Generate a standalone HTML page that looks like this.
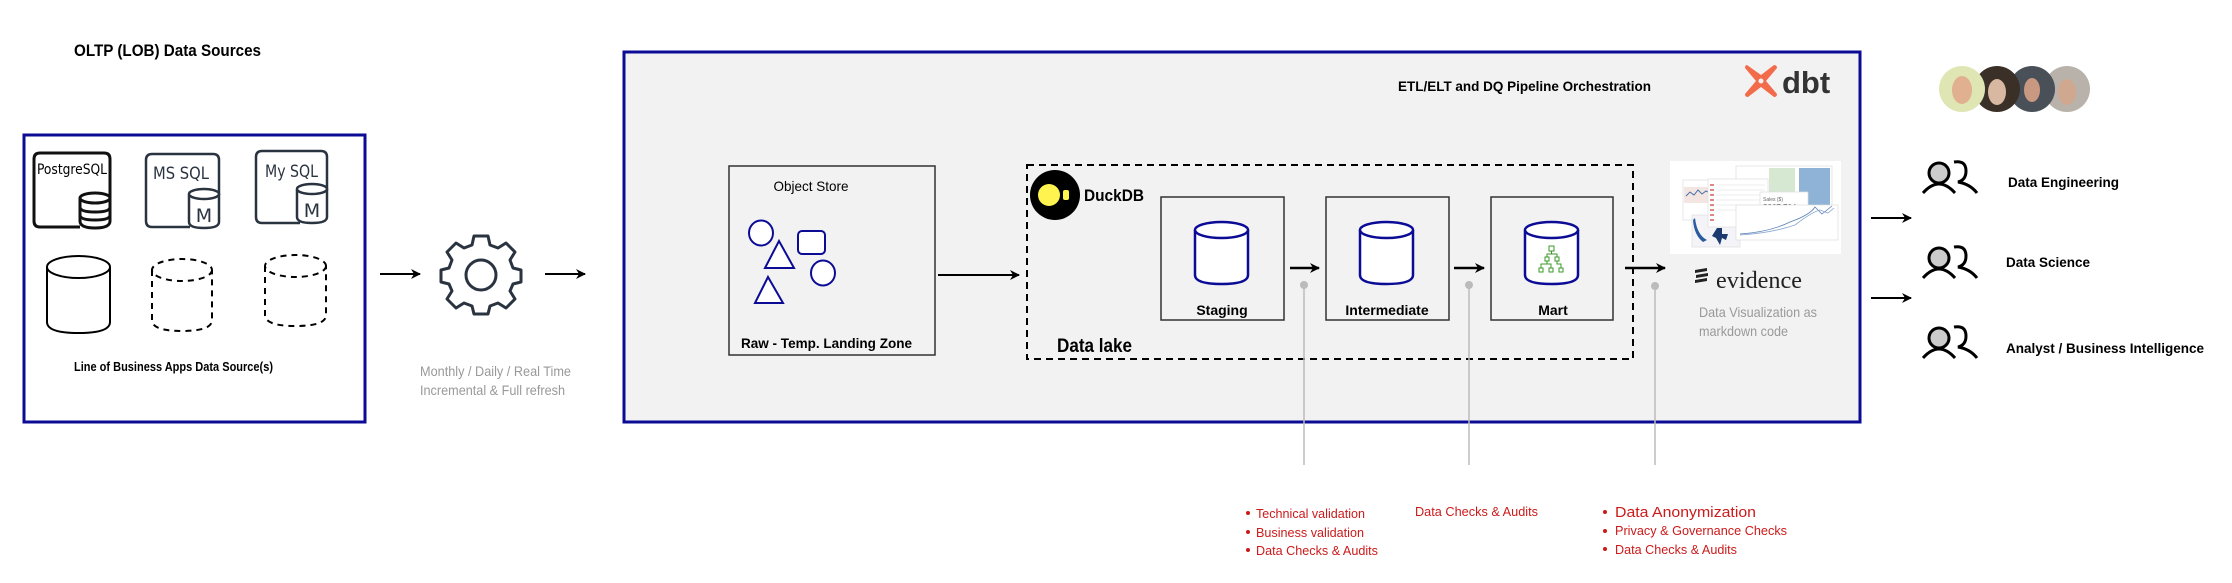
<!DOCTYPE html>
<html><head><meta charset="utf-8"><style>
html,body{margin:0;padding:0;background:#fff;}
svg{display:block;}
</style></head><body>
<svg width="2232" height="583" viewBox="0 0 2232 583" xmlns="http://www.w3.org/2000/svg" font-family="Liberation Sans, Arial, sans-serif">
<defs>
<marker id="ah" markerWidth="10" markerHeight="10" refX="9" refY="5" orient="auto" markerUnits="userSpaceOnUse"><path d="M0,0 L10,5 L0,10 L3,5 Z" fill="#000"/></marker>
</defs>

<text x="74" y="56" font-size="17" font-weight="bold" fill="#000" textLength="187" lengthAdjust="spacingAndGlyphs">OLTP (LOB) Data Sources</text>
<rect x="24" y="135" width="341" height="287" fill="#fff" stroke="#0b0b96" stroke-width="3"/>

<path d="M80,227 L40,227 Q34,227 34,221 L34,159 Q34,153 40,153 L104,153 Q110,153 110,159 L110,200" fill="none" stroke="#111" stroke-width="3"/>
<text x="37" y="174" font-size="14" fill="#000" font-family="DejaVu Sans Condensed, DejaVu Sans, sans-serif" textLength="70" lengthAdjust="spacingAndGlyphs">PostgreSQL</text>
<g stroke="#111" stroke-width="3" fill="#fff">
<path d="M80,198 L80,221 Q80,228 95,228 Q110,228 110,221 L110,198"/>
<ellipse cx="95" cy="198" rx="15" ry="5"/>
<path d="M80,207 Q80,212 95,212 Q110,212 110,207" fill="none"/>
<path d="M80,215 Q80,220 95,220 Q110,220 110,215" fill="none"/>
</g>
<g stroke="#2a3340" stroke-width="2.5" fill="none">
<path d="M190,227 L152,227 Q146,227 146,221 L146,160 Q146,154 152,154 L213,154 Q219,154 219,160 L219,195"/>
<path d="M189,194 L189,222 Q189,228 204,228 Q219,228 219,222 L219,194"/>
<ellipse cx="204" cy="194" rx="15" ry="5" fill="#fff"/>
</g>
<text x="153" y="179" font-size="17" fill="#2a3340" font-family="DejaVu Sans, sans-serif" textLength="56" lengthAdjust="spacingAndGlyphs">MS SQL</text>
<text x="204" y="222" font-size="19" fill="#2a3340" text-anchor="middle" font-family="DejaVu Sans, sans-serif">M</text>
<g stroke="#2a3340" stroke-width="2.5" fill="none">
<path d="M300,223 L262,223 Q256,223 256,217 L256,157 Q256,151 262,151 L321,151 Q327,151 327,157 L327,190"/>
<path d="M297,189 L297,217 Q297,223 312,223 Q327,223 327,217 L327,189"/>
<ellipse cx="312" cy="189" rx="15" ry="5" fill="#fff"/>
</g>
<text x="265" y="177" font-size="17" fill="#2a3340" font-family="DejaVu Sans, sans-serif" textLength="53" lengthAdjust="spacingAndGlyphs">My SQL</text>
<text x="312" y="217" font-size="19" fill="#2a3340" text-anchor="middle" font-family="DejaVu Sans, sans-serif">M</text>

<g fill="#fff" stroke="#000" stroke-width="2">
<path d="M47,267 L47,322 Q47,333 78.5,333 Q110,333 110,322 L110,267"/>
<ellipse cx="78.5" cy="267" rx="31.5" ry="11"/>
</g>
<g fill="none" stroke="#000" stroke-width="2" stroke-dasharray="6,5">
<path d="M152,270 L152,320 Q152,331 182,331 Q212,331 212,320 L212,270"/>
<ellipse cx="182" cy="270" rx="30" ry="11"/>
<path d="M265,266 L265,315 Q265,326 295.5,326 Q326,326 326,315 L326,266"/>
<ellipse cx="295.5" cy="266" rx="30.5" ry="11"/>
</g>
<text x="74" y="371" font-size="13" font-weight="bold" fill="#000" textLength="199" lengthAdjust="spacingAndGlyphs">Line of Business Apps Data Source(s)</text>

<line x1="380" y1="274" x2="420" y2="274" stroke="#000" stroke-width="2" marker-end="url(#ah)"/>
<line x1="545" y1="274" x2="585" y2="274" stroke="#000" stroke-width="2" marker-end="url(#ah)"/>
<g transform="translate(481,275)" fill="none" stroke="#2a3340" stroke-width="3" stroke-linejoin="round">
<path d="M-7,-39 L7,-39 L9,-30 L17,-27 L25,-32 L34,-23 L29,-15 L32,-7 L40,-5 L40,7 L32,9 L29,16 L34,24 L25,33 L17,28 L9,31 L7,39 L-7,39 L-9,31 L-17,28 L-25,33 L-34,24 L-29,16 L-32,9 L-40,7 L-40,-5 L-32,-7 L-29,-15 L-34,-23 L-25,-32 L-17,-27 L-9,-30 Z"/>
<circle r="15"/>
</g>
<text x="420" y="376" font-size="14" fill="#999" textLength="151" lengthAdjust="spacingAndGlyphs">Monthly / Daily / Real Time</text>
<text x="420" y="395" font-size="14" fill="#999" textLength="145" lengthAdjust="spacingAndGlyphs">Incremental &amp; Full refresh</text>

<rect x="624" y="52" width="1236" height="370" fill="#f2f2f2" stroke="#0b0b96" stroke-width="3"/>
<text x="1398" y="91" font-size="14" font-weight="bold" fill="#000" textLength="253" lengthAdjust="spacingAndGlyphs">ETL/ELT and DQ Pipeline Orchestration</text>
<g transform="translate(1761,81)" fill="#f26b4a">
<path d="M-14,-16 Q-16,-16 -16,-13 L-5,0 L-16,13 Q-16,16 -13,16 L0,6 L13,16 Q16,16 16,13 L5,0 L16,-13 Q16,-16 13,-16 L0,-6 Z"/>
<circle r="2.5" fill="#f2f2f2"/>
</g>
<text x="1782" y="93" font-size="31" font-weight="bold" fill="#333">dbt</text>

<rect x="729" y="166" width="206" height="189" fill="#f2f2f2" stroke="#333" stroke-width="1.5"/>
<text x="811" y="191" font-size="14" text-anchor="middle" fill="#000" textLength="75" lengthAdjust="spacingAndGlyphs">Object Store</text>
<g fill="#fff" stroke="#0b0b96" stroke-width="2">
<ellipse cx="761" cy="233" rx="12" ry="12.5"/>
<rect x="798" y="231" width="27" height="23" rx="4"/>
<ellipse cx="823" cy="273" rx="12" ry="12.5"/>
<path d="M779,241 L765,268 L794,268 Z"/>
<path d="M768,277 L755,303 L783,303 Z"/>
</g>
<text x="741" y="348" font-size="14" font-weight="bold" fill="#000" textLength="171" lengthAdjust="spacingAndGlyphs">Raw - Temp. Landing Zone</text>
<line x1="938" y1="275" x2="1019" y2="275" stroke="#000" stroke-width="2" marker-end="url(#ah)"/>

<rect x="1027" y="165" width="606" height="194" fill="none" stroke="#000" stroke-width="2" stroke-dasharray="7,5"/>
<ellipse cx="1055" cy="195" rx="25" ry="25" fill="#000"/>
<circle cx="1049" cy="195" r="11" fill="#fff44f"/>
<rect x="1063" y="190" width="6" height="10" rx="2" fill="#fff44f"/>
<text x="1084" y="201" font-size="17" font-weight="bold" fill="#000" textLength="60" lengthAdjust="spacingAndGlyphs">DuckDB</text>
<text x="1057" y="352" font-size="19" font-weight="bold" fill="#000" textLength="75" lengthAdjust="spacingAndGlyphs">Data lake</text>

<g fill="#f2f2f2" stroke="#333" stroke-width="1.5">
<rect x="1161" y="197" width="123" height="123"/>
<rect x="1326" y="197" width="123" height="123"/>
<rect x="1491" y="197" width="122" height="123"/>
</g>
<g fill="#fff" stroke="#0b0b96" stroke-width="2.5">
<path d="M1195,230 L1195,275 Q1195,284 1221.5,284 Q1248,284 1248,275 L1248,230"/>
<ellipse cx="1221.5" cy="230" rx="26.5" ry="8"/>
<path d="M1360,230 L1360,275 Q1360,284 1386.5,284 Q1413,284 1413,275 L1413,230"/>
<ellipse cx="1386.5" cy="230" rx="26.5" ry="8"/>
<path d="M1525,230 L1525,275 Q1525,284 1551.5,284 Q1578,284 1578,275 L1578,230"/>
<ellipse cx="1551.5" cy="230" rx="26.5" ry="8"/>
</g>
<g fill="none" stroke="#3a9a2a" stroke-width="1">
<rect x="1549" y="246" width="5" height="5"/>
<rect x="1545" y="257" width="4" height="4"/><rect x="1555" y="257" width="4" height="4"/>
<rect x="1539" y="268" width="4" height="4"/><rect x="1549" y="268" width="4" height="4"/><rect x="1559" y="268" width="4" height="4"/>
<path d="M1551.5,251 V254 H1547 V257 M1551.5,254 H1557 V257 M1547,261 V264 H1541 V268 M1547,264 H1551 V268 M1557,261 V264 H1561 V268"/>
</g>
<g font-size="14" font-weight="bold" text-anchor="middle" fill="#000">
<text x="1222" y="315">Staging</text>
<text x="1387" y="315">Intermediate</text>
<text x="1553" y="315">Mart</text>
</g>
<line x1="1290" y1="268" x2="1319" y2="268" stroke="#000" stroke-width="2.5" marker-end="url(#ah)"/>
<line x1="1454" y1="268" x2="1484" y2="268" stroke="#000" stroke-width="2.5" marker-end="url(#ah)"/>
<line x1="1625" y1="268" x2="1665" y2="268" stroke="#000" stroke-width="2.5" marker-end="url(#ah)"/>

<g stroke="#bbb" stroke-width="1.5">
<line x1="1304" y1="285" x2="1304" y2="465"/>
<line x1="1469" y1="285" x2="1469" y2="465"/>
<line x1="1655" y1="286" x2="1655" y2="465"/>
</g>
<g fill="#bbb"><circle cx="1304" cy="285" r="4"/><circle cx="1469" cy="285" r="4"/><circle cx="1655" cy="286" r="4"/></g>

<g fill="#cc1a1a" font-size="13">
<circle cx="1248" cy="513" r="2"/><circle cx="1248" cy="532" r="2"/><circle cx="1248" cy="550" r="2"/>
<text x="1256" y="518" textLength="109" lengthAdjust="spacingAndGlyphs">Technical validation</text>
<text x="1256" y="537" textLength="108" lengthAdjust="spacingAndGlyphs">Business validation</text>
<text x="1256" y="555" textLength="122" lengthAdjust="spacingAndGlyphs">Data Checks &amp; Audits</text>
<text x="1415" y="516" textLength="123" lengthAdjust="spacingAndGlyphs">Data Checks &amp; Audits</text>
<circle cx="1605" cy="512" r="2"/><circle cx="1605" cy="531" r="2"/><circle cx="1605" cy="549" r="2"/>
<text x="1615" y="517" font-size="15" textLength="141" lengthAdjust="spacingAndGlyphs">Data Anonymization</text>
<text x="1615" y="535" textLength="172" lengthAdjust="spacingAndGlyphs">Privacy &amp; Governance Checks</text>
<text x="1615" y="554" textLength="122" lengthAdjust="spacingAndGlyphs">Data Checks &amp; Audits</text>
</g>

<g>
<rect x="1670" y="161" width="171" height="93" fill="#fff"/>
<rect x="1736" y="166" width="96" height="46" fill="#fff" stroke="#ddd" stroke-width="0.7"/>
<rect x="1769" y="168" width="26" height="42" fill="#d7e8d2"/>
<rect x="1799" y="168" width="31" height="42" fill="#8fb3d6"/>
<rect x="1683" y="180" width="35" height="40" fill="#fff" stroke="#ddd" stroke-width="0.7"/>
<rect x="1684" y="187" width="33" height="16" fill="#f3e6e2"/>
<path d="M1686,196 L1690,192 L1694,195 L1698,190 L1702,194 L1706,191 L1710,193" stroke="#4a6fa8" fill="none" stroke-width="1"/>
<rect x="1692" y="215" width="48" height="32" fill="#f4f4f8" stroke="#ddd" stroke-width="0.7"/>
<path d="M1695,218 Q1697,235 1707,240 L1703,242 Q1694,235 1693,220 Z" fill="#2a5aa0"/>
<path d="M1717,228 L1722,228 L1722,234 L1728,234 L1726,240 L1722,238 L1720,245 L1716,238 L1712,236 Z" fill="#1a3a70"/>
<rect x="1708" y="179" width="60" height="48" fill="#fff" stroke="#ddd" stroke-width="0.7"/>
<g fill="#c33" opacity="0.6"><rect x="1710" y="184" width="4" height="2"/><rect x="1710" y="189" width="4" height="2"/><rect x="1710" y="194" width="4" height="2"/><rect x="1710" y="199" width="4" height="2"/><rect x="1710" y="204" width="4" height="2"/><rect x="1710" y="209" width="4" height="2"/><rect x="1710" y="214" width="4" height="2"/><rect x="1710" y="219" width="4" height="2"/></g>
<g stroke="#ddd" stroke-width="0.6"><line x1="1716" y1="185" x2="1765" y2="185"/><line x1="1716" y1="190" x2="1765" y2="190"/><line x1="1716" y1="195" x2="1765" y2="195"/><line x1="1716" y1="200" x2="1765" y2="200"/><line x1="1716" y1="205" x2="1765" y2="205"/><line x1="1716" y1="210" x2="1765" y2="210"/></g>
<rect x="1760" y="192" width="48" height="24" fill="#fff" stroke="#ddd" stroke-width="0.7"/>
<text x="1763" y="201" font-size="5" fill="#666">Sales ($)</text>
<text x="1763" y="210" font-size="8" fill="#444">$367,704</text>
<rect x="1736" y="205" width="102" height="35" fill="#fff" stroke="#ddd" stroke-width="0.7"/>
<path d="M1740,234 Q1770,232 1790,222 Q1810,215 1815,207 L1822,214 L1832,206" stroke="#5a7fb8" fill="none" stroke-width="0.8"/>
<path d="M1740,235 Q1772,233 1795,225 Q1812,212 1820,210 L1828,213 L1834,208" stroke="#8aa8d0" fill="none" stroke-width="0.8"/>
</g>
<g fill="#222">
<path d="M1695,270 L1707,268 L1707,271 L1695,273 Z"/>
<path d="M1696,275 L1708,273 L1708,276 L1696,278 Z"/>
<path d="M1695,280 L1707,278 L1707,281 L1695,283 Z"/>
</g>
<text x="1716" y="288" font-size="24" fill="#222" font-family="Liberation Serif, serif" textLength="86" lengthAdjust="spacingAndGlyphs">evidence</text>
<text x="1699" y="317" font-size="14" fill="#999" textLength="118" lengthAdjust="spacingAndGlyphs">Data Visualization as</text>
<text x="1699" y="336" font-size="14" fill="#999" textLength="89" lengthAdjust="spacingAndGlyphs">markdown code</text>

<line x1="1871" y1="218" x2="1911" y2="218" stroke="#000" stroke-width="2" marker-end="url(#ah)"/>
<line x1="1871" y1="298" x2="1911" y2="298" stroke="#000" stroke-width="2" marker-end="url(#ah)"/>

<g>
<circle cx="2067" cy="89" r="23" fill="#b8b2aa"/>
<circle cx="2032" cy="89" r="23" fill="#4a5058"/>
<circle cx="1997" cy="89" r="23" fill="#3a3028"/>
<circle cx="1962" cy="89" r="23" fill="#dfe6b4"/>
<ellipse cx="1962" cy="90" rx="10" ry="14" fill="#e0b090"/>
<ellipse cx="1997" cy="92" rx="9" ry="13" fill="#d8b8a0"/>
<ellipse cx="2032" cy="90" rx="8" ry="12" fill="#c89880"/>
<ellipse cx="2067" cy="92" rx="9" ry="13" fill="#d0a890"/>
</g>

<g fill="none" stroke="#000" stroke-width="3">
<circle cx="1939" cy="173" r="10" fill="#ccc"/>
<path d="M1923,193 Q1939,175 1955,193"/>
<path d="M1954,162 Q1966,160 1966,171 Q1966,180 1958,182 Q1970,184 1977,193"/>
</g>
<g fill="none" stroke="#000" stroke-width="3" transform="translate(0,85)">
<circle cx="1939" cy="173" r="10" fill="#ccc"/>
<path d="M1923,193 Q1939,175 1955,193"/>
<path d="M1954,162 Q1966,160 1966,171 Q1966,180 1958,182 Q1970,184 1977,193"/>
</g>
<g fill="none" stroke="#000" stroke-width="3" transform="translate(0,165)">
<circle cx="1939" cy="173" r="10" fill="#ccc"/>
<path d="M1923,193 Q1939,175 1955,193"/>
<path d="M1954,162 Q1966,160 1966,171 Q1966,180 1958,182 Q1970,184 1977,193"/>
</g>
<g font-size="14" font-weight="bold" fill="#000">
<text x="2008" y="187" textLength="111" lengthAdjust="spacingAndGlyphs">Data Engineering</text>
<text x="2006" y="267" textLength="84" lengthAdjust="spacingAndGlyphs">Data Science</text>
<text x="2006" y="353" textLength="198" lengthAdjust="spacingAndGlyphs">Analyst / Business Intelligence</text>
</g>
</svg>
</body></html>
